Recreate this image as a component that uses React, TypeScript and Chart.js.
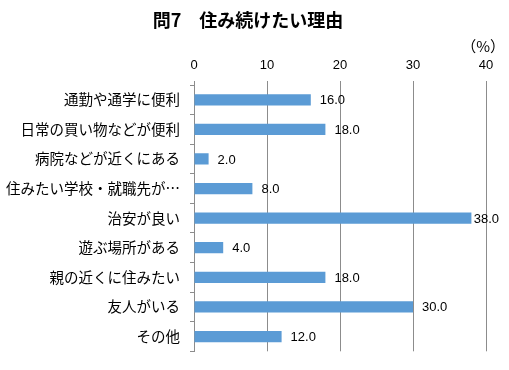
import React, { useEffect, useRef } from "react";
import { Chart, registerables } from "chart.js";

Chart.register(...registerables);

const titleText = "問7　住み続けたい理由";
const unitText = "（%）";
const categories = [
  "通勤や通学に便利",
  "日常の買い物などが便利",
  "病院などが近くにある",
  "住みたい学校・就職先が…",
  "治安が良い",
  "遊ぶ場所がある",
  "親の近くに住みたい",
  "友人がいる",
  "その他",
];
const values = [16.0, 18.0, 2.0, 8.0, 38.0, 4.0, 18.0, 30.0, 12.0];
const axisMin = 0;
const axisMax = 40;
const axisStep = 10;

const W = 509;
const H = 370;

export default function App() {
  const ref = useRef<HTMLCanvasElement | null>(null);

  useEffect(() => {
    const canvas = ref.current;
    if (!canvas) return;

    const decorPlugin = {
      id: "decor",
      afterDraw(chart: any) {
        const ctx = chart.ctx;
        ctx.save();
        // title
        ctx.fillStyle = "#000";
        ctx.font = "bold 18px 'Noto Sans CJK JP'";
        ctx.textAlign = "center";
        ctx.textBaseline = "middle";
        ctx.fillText(titleText, 248, 20);
        // unit
        ctx.font = "15px 'Noto Sans CJK JP'";
        ctx.textAlign = "right";
        ctx.fillText(unitText, 505, 46);
        // value labels
        const meta = chart.getDatasetMeta(0);
        ctx.font = "13px 'Liberation Sans'";
        ctx.textAlign = "left";
        ctx.textBaseline = "middle";
        meta.data.forEach((bar: any, i: number) => {
          const t = values[i].toFixed(1);
          const w = ctx.measureText(t).width;
          const x = Math.min(bar.x + 9, 499 - w);
          ctx.fillText(t, x, bar.y + 1);
        });
        ctx.restore();
      },
    };

    const chart = new Chart(canvas, {
      type: "bar",
      data: {
        labels: categories,
        datasets: [
          {
            data: values,
            backgroundColor: "#5B9BD5",
            borderWidth: 0,
            barPercentage: 0.38,
            categoryPercentage: 1,
          },
        ],
      },
      options: {
        indexAxis: "y",
        responsive: false,
        animation: false,
        devicePixelRatio: 1,
        layout: { padding: { left: 0, right: 23, top: 0, bottom: 8 } },
        plugins: {
          legend: { display: false },
          title: { display: false },
          tooltip: { enabled: false },
        },
        scales: {
          x: {
            position: "top",
            min: axisMin,
            max: axisMax,
            ticks: {
              stepSize: axisStep,
              color: "#000",
              font: { family: "'Liberation Sans'", size: 13 },
              padding: 8,
            },
            grid: {
              color: "#8c8c8c",
              lineWidth: 1,
              drawTicks: true,
              tickLength: 4,
            },
            border: { display: false },
            afterFit: (s: any) => {
              s.height = 85;
            },
          },
          y: {
            ticks: {
              color: "#000",
              font: { family: "'Noto Sans CJK JP'", size: 14.5 },
              padding: 10,
              autoSkip: false,
            },
            grid: {
              drawOnChartArea: false,
              drawTicks: true,
              tickLength: 4,
              color: "#8c8c8c",
            },
            border: { display: true, color: "#8c8c8c", width: 1 },
            afterFit: (s: any) => {
              s.width = 194;
            },
          },
        },
      },
      plugins: [decorPlugin],
    } as any);

    return () => chart.destroy();
  }, []);

  return (
    <div style={{ position: "fixed", left: 0, top: 0, width: W, height: H, background: "#fff" }}>
      <canvas ref={ref} width={W} height={H} style={{ width: W, height: H, display: "block" }} />
    </div>
  );
}
